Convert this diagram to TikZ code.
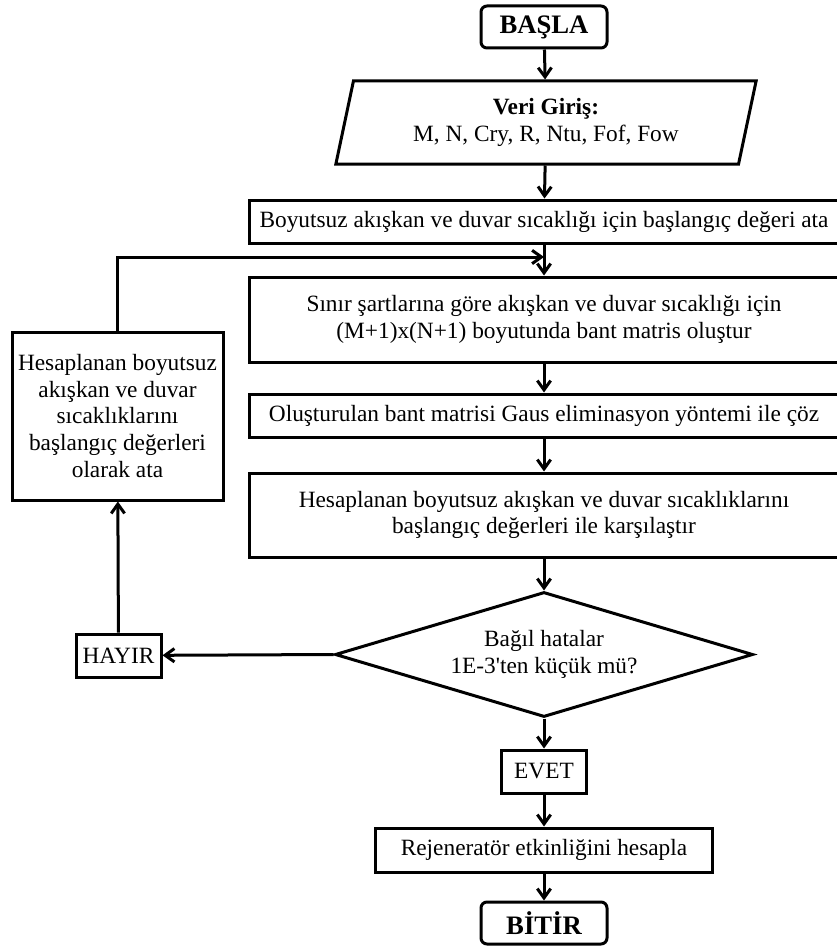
\documentclass[tikz,border=0pt]{standalone}
\usepackage{fontspec}
\setmainfont{Liberation Serif}[Ligatures=TeXOff]
\usetikzlibrary{arrows.meta,shapes.geometric}

\begin{document}
\begin{tikzpicture}[x=0.75pt,y=-0.75pt,>={Straight Barb[length=7pt,width=10pt]},line width=2.25pt,
    every node/.style={font=\fontsize{17.5pt}{20pt}\selectfont,align=center,inner sep=2pt},
    kutu/.style={draw,rectangle,minimum height=32.25pt},
    genis/.style={kutu,minimum width=442.5pt},
    uckutu/.style={draw,rounded corners=4.5pt,minimum width=94.5pt,minimum height=31.5pt,font=\fontsize{20pt}{24pt}\selectfont\bfseries}]
  \useasboundingbox (0,0) rectangle (837,949);
  % ana akis
  \node[uckutu] (basla) at (544,27) {BAŞLA};
  \node[draw,trapezium,trapezium left angle=75.8,trapezium right angle=104.2,trapezium stretches=true,
        minimum width=315.75pt,minimum height=62.25pt,inner sep=0pt] (veri) at (546,122.5)
        {\textbf{Veri Giriş:}\\M, N, Cry, R, Ntu, Fof, Fow};
  \node[genis] (ilk) at (544,221.5) {Boyutsuz akışkan ve duvar sıcaklığı için başlangıç değeri ata};
  \node[genis,minimum height=63.75pt] (sinir) at (544,319.5) {Sınır şartlarına göre akışkan ve duvar sıcaklığı için\\(M+1)x(N+1) boyutunda bant matris oluştur};
  \node[genis] (coz) at (544,415.5) {Oluşturulan bant matrisi Gaus eliminasyon yöntemi ile çöz};
  \node[genis,minimum height=63pt] (kars) at (544,515) {Hesaplanan boyutsuz akışkan ve duvar sıcaklıklarını\\başlangıç değerleri ile karşılaştır};
  \node[draw,diamond,aspect=3.3,minimum width=313.5pt,minimum height=93.75pt,inner sep=0pt] (karar) at (544,654.5)
        {Bağıl hatalar\\1E-3'ten küçük mü?};
  \node[kutu,minimum width=63.75pt] (evet) at (544,771.5) {EVET};
  \node[kutu,minimum width=252.75pt,minimum height=33pt] (rejen) at (544,850) {Rejeneratör etkinliğini hesapla};
  \node[uckutu] (bitir) at (544,923) {BİTİR};
  % geri donus
  \node[kutu,minimum width=63.75pt] (hayir) at (118.5,655.5) {HAYIR};
  \node[kutu,minimum width=158.25pt,minimum height=126pt] (geri) at (117.5,416)
        {Hesaplanan boyutsuz\\akışkan ve duvar\\sıcaklıklarını\\başlangıç değerleri\\olarak ata};
  \coordinate (birles) at (544,257);

  \draw[->] (basla) -- (veri);
  \draw[->] (veri) -- (ilk);
  \draw[->] (ilk) -- (sinir);
  \draw[->] (sinir) -- (coz);
  \draw[->] (coz) -- (kars);
  \draw[->] (kars) -- (karar);
  \draw[->] (karar) -- (evet);
  \draw[->] (evet) -- (rejen);
  \draw[->] (rejen) -- (bitir);
  \draw[->] (karar.west) -- (hayir);
  \draw[->] (hayir) -- (geri);
  \draw[->] (geri.north) |- (birles);
\end{tikzpicture}
\end{document}
